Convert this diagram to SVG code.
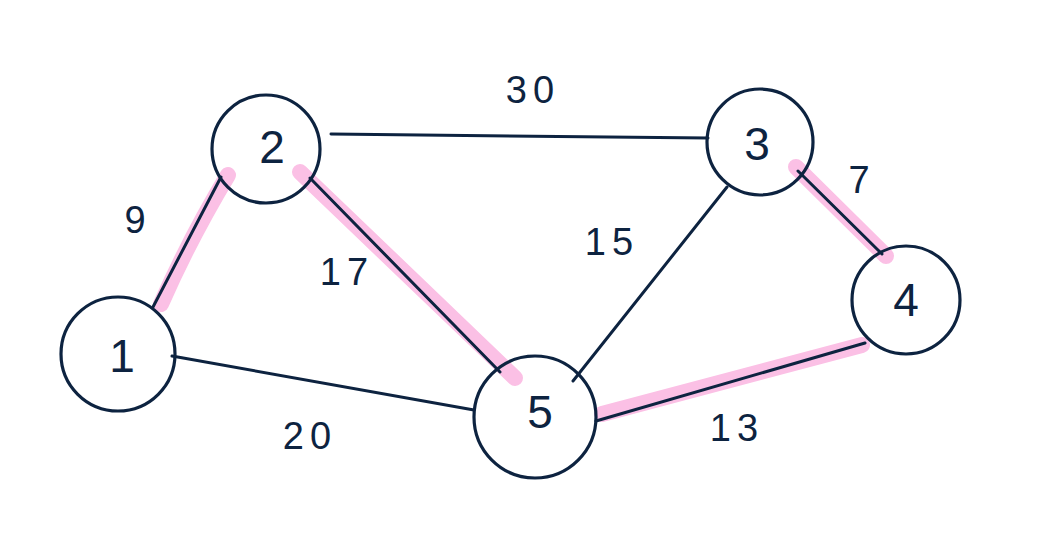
<svg xmlns="http://www.w3.org/2000/svg" width="1038" height="545" viewBox="0 0 1038 545">
<style>
.hl{stroke:#fbc0e5;stroke-width:16;stroke-linecap:round;fill:none}
.e{stroke:#0d2340;stroke-width:3;fill:none;stroke-linecap:round}
.n{fill:none;stroke:#0d2340;stroke-width:3.2}
.t{font-family:"Liberation Sans",sans-serif;font-size:46px;fill:#0d2340;text-anchor:middle;dominant-baseline:central}
.w{font-family:"Liberation Sans",sans-serif;font-size:38px;fill:#0d2340;text-anchor:middle;dominant-baseline:central;letter-spacing:6px}
</style>
<rect width="1038" height="545" fill="#fff"/>
<g id="connectors">
<path class="hl" d="M161,304 Q190,238 228,175"/>
<path class="hl" d="M300,172 L515,378"/>
<path class="hl" d="M796,167 L886,256"/>
<path class="hl" d="M602,414 L862,345"/>
<line class="e" x1="153" y1="307" x2="221" y2="177"/>
<line class="e" x1="331" y1="134" x2="708" y2="138"/>
<line class="e" x1="310" y1="178" x2="500" y2="372"/>
<line class="e" x1="172" y1="356" x2="474" y2="410"/>
<line class="e" x1="727" y1="187" x2="573" y2="381"/>
<line class="e" x1="798" y1="171" x2="882" y2="254"/>
<line class="e" x1="596" y1="421" x2="865" y2="343"/>
</g>
<g id="node1"><circle class="n" cx="118" cy="354" r="57"/><text class="t" x="122" y="356">1</text></g>
<g id="node2"><circle class="n" cx="266" cy="149" r="54"/><text class="t" x="272" y="147">2</text></g>
<g id="node3"><circle class="n" cx="760" cy="142" r="53"/><text class="t" x="757" y="144">3</text></g>
<g id="node4"><circle class="n" cx="906" cy="300" r="54"/><text class="t" x="906" y="300">4</text></g>
<g id="node5"><circle class="n" cx="535" cy="417" r="61"/><text class="t" x="540" y="412">5</text></g>
<g id="labels">
<text class="w" x="138" y="220">9</text>
<text class="w" x="347" y="272">17</text>
<text class="w" x="310" y="436">20</text>
<text class="w" x="533" y="90">30</text>
<text class="w" x="612" y="242">15</text>
<text class="w" x="862" y="180">7</text>
<text class="w" x="737" y="428">13</text>
</g>
</svg>
